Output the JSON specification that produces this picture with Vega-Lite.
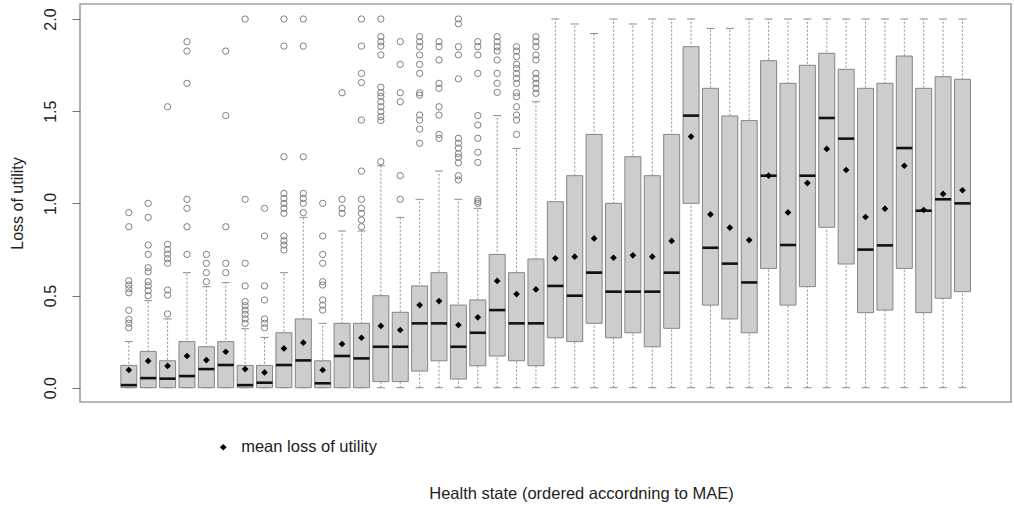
{
  "$schema": "https://vega.github.io/schema/vega-lite/v6.json",
  "width": 931,
  "height": 398,
  "autosize": {"type": "none"},
  "padding": {"left": 80, "top": 4, "right": 3, "bottom": 106},
  "background": "white",
  "config": {
    "font": "Liberation Sans",
    "view": {"stroke": "#a0a0a0", "strokeWidth": 1.6}
  },
  "datasets": {
    "boxes": [
      {"state": 1, "lw": 0, "q1": 0, "median": 0.014, "q3": 0.121, "uw": 0.25, "mean": 0.096},
      {"state": 2, "lw": 0, "q1": 0, "median": 0.052, "q3": 0.197, "uw": 0.472, "mean": 0.145},
      {"state": 3, "lw": 0, "q1": 0, "median": 0.049, "q3": 0.146, "uw": 0.373, "mean": 0.118},
      {"state": 4, "lw": 0, "q1": 0, "median": 0.063, "q3": 0.25, "uw": 0.624, "mean": 0.172},
      {"state": 5, "lw": 0, "q1": 0, "median": 0.101, "q3": 0.222, "uw": 0.548, "mean": 0.15},
      {"state": 6, "lw": 0, "q1": 0, "median": 0.123, "q3": 0.25, "uw": 0.57, "mean": 0.195},
      {"state": 7, "lw": 0, "q1": 0, "median": 0.014, "q3": 0.121, "uw": 0.32, "mean": 0.101},
      {"state": 8, "lw": 0, "q1": 0, "median": 0.027, "q3": 0.121, "uw": 0.273, "mean": 0.083},
      {"state": 9, "lw": 0, "q1": 0, "median": 0.123, "q3": 0.298, "uw": 0.624, "mean": 0.213},
      {"state": 10, "lw": 0, "q1": 0, "median": 0.148, "q3": 0.373, "uw": 0.924, "mean": 0.244},
      {"state": 11, "lw": 0, "q1": 0, "median": 0.024, "q3": 0.146, "uw": 0.349, "mean": 0.096},
      {"state": 12, "lw": 0, "q1": 0, "median": 0.172, "q3": 0.349, "uw": 0.85, "mean": 0.237},
      {"state": 13, "lw": 0, "q1": 0, "median": 0.159, "q3": 0.349, "uw": 0.85, "mean": 0.271},
      {"state": 14, "lw": 0, "q1": 0.033, "median": 0.222, "q3": 0.499, "uw": 1.204, "mean": 0.335},
      {"state": 15, "lw": 0, "q1": 0.033, "median": 0.222, "q3": 0.409, "uw": 0.924, "mean": 0.313},
      {"state": 16, "lw": 0, "q1": 0.09, "median": 0.349, "q3": 0.552, "uw": 1.022, "mean": 0.448},
      {"state": 17, "lw": 0, "q1": 0.146, "median": 0.349, "q3": 0.624, "uw": 1.175, "mean": 0.47},
      {"state": 18, "lw": 0, "q1": 0.047, "median": 0.222, "q3": 0.448, "uw": 1.022, "mean": 0.34},
      {"state": 19, "lw": 0, "q1": 0.119, "median": 0.298, "q3": 0.476, "uw": 0.973, "mean": 0.382},
      {"state": 20, "lw": 0, "q1": 0.172, "median": 0.421, "q3": 0.723, "uw": 1.476, "mean": 0.579},
      {"state": 21, "lw": 0, "q1": 0.146, "median": 0.349, "q3": 0.624, "uw": 1.298, "mean": 0.508},
      {"state": 22, "lw": 0, "q1": 0.119, "median": 0.349, "q3": 0.698, "uw": 1.551, "mean": 0.533},
      {"state": 23, "lw": 0, "q1": 0.271, "median": 0.552, "q3": 1.009, "uw": 2.0, "mean": 0.702},
      {"state": 24, "lw": 0, "q1": 0.25, "median": 0.499, "q3": 1.15, "uw": 1.973, "mean": 0.711},
      {"state": 25, "lw": 0, "q1": 0.349, "median": 0.624, "q3": 1.374, "uw": 1.922, "mean": 0.81},
      {"state": 26, "lw": 0, "q1": 0.271, "median": 0.521, "q3": 1.0, "uw": 2.0, "mean": 0.705},
      {"state": 27, "lw": 0, "q1": 0.298, "median": 0.521, "q3": 1.253, "uw": 1.973, "mean": 0.718},
      {"state": 28, "lw": 0, "q1": 0.222, "median": 0.521, "q3": 1.15, "uw": 2.0, "mean": 0.711},
      {"state": 29, "lw": 0, "q1": 0.322, "median": 0.624, "q3": 1.374, "uw": 2.0, "mean": 0.796},
      {"state": 30, "lw": 0, "q1": 1.0, "median": 1.476, "q3": 1.85, "uw": 2.0, "mean": 1.362},
      {"state": 31, "lw": 0, "q1": 0.448, "median": 0.759, "q3": 1.624, "uw": 1.949, "mean": 0.94},
      {"state": 32, "lw": 0, "q1": 0.373, "median": 0.673, "q3": 1.474, "uw": 1.949, "mean": 0.868},
      {"state": 33, "lw": 0, "q1": 0.298, "median": 0.571, "q3": 1.449, "uw": 2.0, "mean": 0.801},
      {"state": 34, "lw": 0, "q1": 0.647, "median": 1.15, "q3": 1.774, "uw": 2.0, "mean": 1.15},
      {"state": 35, "lw": 0, "q1": 0.448, "median": 0.774, "q3": 1.651, "uw": 2.0, "mean": 0.951},
      {"state": 36, "lw": 0, "q1": 0.548, "median": 1.15, "q3": 1.749, "uw": 2.0, "mean": 1.11},
      {"state": 37, "lw": 0, "q1": 0.87, "median": 1.463, "q3": 1.814, "uw": 2.0, "mean": 1.295},
      {"state": 38, "lw": 0, "q1": 0.671, "median": 1.351, "q3": 1.727, "uw": 2.0, "mean": 1.181},
      {"state": 39, "lw": 0, "q1": 0.407, "median": 0.749, "q3": 1.624, "uw": 2.0, "mean": 0.926},
      {"state": 40, "lw": 0, "q1": 0.421, "median": 0.772, "q3": 1.651, "uw": 2.0, "mean": 0.971},
      {"state": 41, "lw": 0, "q1": 0.647, "median": 1.3, "q3": 1.799, "uw": 2.0, "mean": 1.204},
      {"state": 42, "lw": 0, "q1": 0.407, "median": 0.96, "q3": 1.624, "uw": 2.0, "mean": 0.964},
      {"state": 43, "lw": 0, "q1": 0.485, "median": 1.022, "q3": 1.687, "uw": 2.0, "mean": 1.051},
      {"state": 44, "lw": 0, "q1": 0.521, "median": 1.0, "q3": 1.673, "uw": 2.0, "mean": 1.071}
    ],
    "outliers": [
      {"state": 1, "value": 0.95}, {"state": 1, "value": 0.873}, {"state": 1, "value": 0.58}, {"state": 1, "value": 0.557}, {"state": 1, "value": 0.537}, {"state": 1, "value": 0.515}, {"state": 1, "value": 0.42}, {"state": 1, "value": 0.37}, {"state": 1, "value": 0.35}, {"state": 1, "value": 0.325},
      {"state": 2, "value": 1.0}, {"state": 2, "value": 0.924}, {"state": 2, "value": 0.774}, {"state": 2, "value": 0.723}, {"state": 2, "value": 0.651}, {"state": 2, "value": 0.629}, {"state": 2, "value": 0.575}, {"state": 2, "value": 0.553}, {"state": 2, "value": 0.526}, {"state": 2, "value": 0.499},
      {"state": 3, "value": 1.524}, {"state": 3, "value": 0.778}, {"state": 3, "value": 0.75}, {"state": 3, "value": 0.725}, {"state": 3, "value": 0.7}, {"state": 3, "value": 0.675}, {"state": 3, "value": 0.53}, {"state": 3, "value": 0.503}, {"state": 3, "value": 0.4},
      {"state": 4, "value": 1.877}, {"state": 4, "value": 1.826}, {"state": 4, "value": 1.651}, {"state": 4, "value": 1.022}, {"state": 4, "value": 0.973}, {"state": 4, "value": 0.873}, {"state": 4, "value": 0.723},
      {"state": 5, "value": 0.723}, {"state": 5, "value": 0.675}, {"state": 5, "value": 0.624}, {"state": 5, "value": 0.575},
      {"state": 6, "value": 1.826}, {"state": 6, "value": 1.476}, {"state": 6, "value": 0.873}, {"state": 6, "value": 0.675}, {"state": 6, "value": 0.624},
      {"state": 7, "value": 2.0}, {"state": 7, "value": 1.022}, {"state": 7, "value": 0.675}, {"state": 7, "value": 0.552}, {"state": 7, "value": 0.467}, {"state": 7, "value": 0.445}, {"state": 7, "value": 0.421}, {"state": 7, "value": 0.398}, {"state": 7, "value": 0.373}, {"state": 7, "value": 0.349},
      {"state": 8, "value": 0.973}, {"state": 8, "value": 0.823}, {"state": 8, "value": 0.552}, {"state": 8, "value": 0.476}, {"state": 8, "value": 0.373}, {"state": 8, "value": 0.349}, {"state": 8, "value": 0.325},
      {"state": 9, "value": 2.0}, {"state": 9, "value": 1.853}, {"state": 9, "value": 1.253}, {"state": 9, "value": 1.054}, {"state": 9, "value": 1.027}, {"state": 9, "value": 1.0}, {"state": 9, "value": 0.973}, {"state": 9, "value": 0.946}, {"state": 9, "value": 0.823}, {"state": 9, "value": 0.797}, {"state": 9, "value": 0.774}, {"state": 9, "value": 0.747},
      {"state": 10, "value": 2.0}, {"state": 10, "value": 1.853}, {"state": 10, "value": 1.253}, {"state": 10, "value": 1.054}, {"state": 10, "value": 1.027}, {"state": 10, "value": 1.0}, {"state": 10, "value": 0.95},
      {"state": 11, "value": 1.0}, {"state": 11, "value": 0.823}, {"state": 11, "value": 0.723}, {"state": 11, "value": 0.675}, {"state": 11, "value": 0.575}, {"state": 11, "value": 0.557}, {"state": 11, "value": 0.476}, {"state": 11, "value": 0.448}, {"state": 11, "value": 0.421},
      {"state": 12, "value": 1.6}, {"state": 12, "value": 1.022}, {"state": 12, "value": 0.973}, {"state": 12, "value": 0.946},
      {"state": 13, "value": 2.0}, {"state": 13, "value": 1.853}, {"state": 13, "value": 1.705}, {"state": 13, "value": 1.655}, {"state": 13, "value": 1.452}, {"state": 13, "value": 1.175}, {"state": 13, "value": 1.022}, {"state": 13, "value": 0.973}, {"state": 13, "value": 0.946}, {"state": 13, "value": 0.91}, {"state": 13, "value": 0.873},
      {"state": 14, "value": 2.0}, {"state": 14, "value": 1.904}, {"state": 14, "value": 1.877}, {"state": 14, "value": 1.853}, {"state": 14, "value": 1.805}, {"state": 14, "value": 1.63}, {"state": 14, "value": 1.6}, {"state": 14, "value": 1.58}, {"state": 14, "value": 1.551}, {"state": 14, "value": 1.524}, {"state": 14, "value": 1.497}, {"state": 14, "value": 1.47}, {"state": 14, "value": 1.449}, {"state": 14, "value": 1.226},
      {"state": 15, "value": 1.877}, {"state": 15, "value": 1.754}, {"state": 15, "value": 1.6}, {"state": 15, "value": 1.551}, {"state": 15, "value": 1.15}, {"state": 15, "value": 1.022},
      {"state": 16, "value": 1.904}, {"state": 16, "value": 1.877}, {"state": 16, "value": 1.85}, {"state": 16, "value": 1.805}, {"state": 16, "value": 1.754}, {"state": 16, "value": 1.705}, {"state": 16, "value": 1.6}, {"state": 16, "value": 1.587}, {"state": 16, "value": 1.479}, {"state": 16, "value": 1.452}, {"state": 16, "value": 1.403}, {"state": 16, "value": 1.326},
      {"state": 17, "value": 1.877}, {"state": 17, "value": 1.85}, {"state": 17, "value": 1.778}, {"state": 17, "value": 1.651}, {"state": 17, "value": 1.624}, {"state": 17, "value": 1.524}, {"state": 17, "value": 1.479}, {"state": 17, "value": 1.374}, {"state": 17, "value": 1.353},
      {"state": 18, "value": 2.0}, {"state": 18, "value": 1.974}, {"state": 18, "value": 1.85}, {"state": 18, "value": 1.805}, {"state": 18, "value": 1.675}, {"state": 18, "value": 1.353}, {"state": 18, "value": 1.326}, {"state": 18, "value": 1.3}, {"state": 18, "value": 1.27}, {"state": 18, "value": 1.25}, {"state": 18, "value": 1.22}, {"state": 18, "value": 1.15}, {"state": 18, "value": 1.127},
      {"state": 19, "value": 1.877}, {"state": 19, "value": 1.85}, {"state": 19, "value": 1.805}, {"state": 19, "value": 1.705}, {"state": 19, "value": 1.476}, {"state": 19, "value": 1.425}, {"state": 19, "value": 1.353}, {"state": 19, "value": 1.277}, {"state": 19, "value": 1.222}, {"state": 19, "value": 1.022}, {"state": 19, "value": 1.01}, {"state": 19, "value": 1.0},
      {"state": 20, "value": 1.904}, {"state": 20, "value": 1.877}, {"state": 20, "value": 1.85}, {"state": 20, "value": 1.826}, {"state": 20, "value": 1.778}, {"state": 20, "value": 1.705}, {"state": 20, "value": 1.651}, {"state": 20, "value": 1.602},
      {"state": 21, "value": 1.85}, {"state": 21, "value": 1.826}, {"state": 21, "value": 1.796}, {"state": 21, "value": 1.754}, {"state": 21, "value": 1.732}, {"state": 21, "value": 1.705}, {"state": 21, "value": 1.678}, {"state": 21, "value": 1.651}, {"state": 21, "value": 1.6}, {"state": 21, "value": 1.579}, {"state": 21, "value": 1.524}, {"state": 21, "value": 1.479}, {"state": 21, "value": 1.452}, {"state": 21, "value": 1.374},
      {"state": 22, "value": 1.904}, {"state": 22, "value": 1.877}, {"state": 22, "value": 1.85}, {"state": 22, "value": 1.805}, {"state": 22, "value": 1.778}, {"state": 22, "value": 1.705}, {"state": 22, "value": 1.678}, {"state": 22, "value": 1.651}, {"state": 22, "value": 1.624}, {"state": 22, "value": 1.597}
    ]
  },
  "layer": [
    {
      "data": {"name": "boxes"},
      "mark": {"type": "rule", "color": "#8c8c8c", "strokeWidth": 1, "strokeDash": [2, 2]},
      "encoding": {
        "x": {
          "field": "state", "type": "quantitative",
          "scale": {"domain": [-1.26, 46.245], "nice": false, "zero": false},
          "axis": {
            "title": "Health state (ordered accordning to MAE)",
            "labels": false, "ticks": false, "domain": false, "grid": false,
            "titleFontSize": 16.5, "titleFontWeight": "normal", "titleColor": "#222222",
            "titleX": 501, "titleY": 91, "titleAlign": "center", "titleBaseline": "middle"
          }
        },
        "y": {
          "field": "lw", "type": "quantitative",
          "scale": {"domain": [-0.0776, 2.0814], "nice": false, "zero": false},
          "axis": {
            "title": "Loss of utility",
            "values": [0, 0.5, 1, 1.5, 2], "format": ".1f",
            "labelAngle": -90, "labelAlign": "center", "labelBaseline": "bottom",
            "labelPadding": 14, "labelFontSize": 16, "labelColor": "#222222",
            "tickSize": 8, "tickColor": "#777777", "tickWidth": 1,
            "domain": false, "grid": false,
            "titleFontSize": 16, "titleFontWeight": "normal", "titleColor": "#222222",
            "titleAngle": -90, "titleX": -63, "titleY": 199,
            "titleAlign": "center", "titleBaseline": "middle"
          }
        },
        "y2": {"field": "uw"}
      }
    },
    {
      "data": {"name": "boxes"},
      "mark": {"type": "tick", "orient": "horizontal", "color": "#8c8c8c", "opacity": 1, "size": 8, "thickness": 1},
      "encoding": {
        "x": {"field": "state", "type": "quantitative"},
        "y": {"field": "lw", "type": "quantitative", "title": "Loss of utility"}
      }
    },
    {
      "data": {"name": "boxes"},
      "mark": {"type": "tick", "orient": "horizontal", "color": "#8c8c8c", "opacity": 1, "size": 8, "thickness": 1},
      "encoding": {
        "x": {"field": "state", "type": "quantitative"},
        "y": {"field": "uw", "type": "quantitative", "title": "Loss of utility"}
      }
    },
    {
      "data": {"name": "boxes"},
      "mark": {"type": "bar", "orient": "vertical", "size": 16, "fill": "#cdcdcd", "stroke": "#858585", "strokeWidth": 1},
      "encoding": {
        "x": {"field": "state", "type": "quantitative"},
        "y": {"field": "q1", "type": "quantitative", "title": "Loss of utility"},
        "y2": {"field": "q3"}
      }
    },
    {
      "data": {"name": "boxes"},
      "mark": {"type": "tick", "orient": "horizontal", "color": "#111111", "opacity": 1, "size": 16, "thickness": 2.6},
      "encoding": {
        "x": {"field": "state", "type": "quantitative"},
        "y": {"field": "median", "type": "quantitative", "title": "Loss of utility"}
      }
    },
    {
      "data": {"name": "outliers"},
      "mark": {"type": "point", "shape": "circle", "filled": false, "stroke": "#808080", "opacity": 1, "strokeWidth": 1, "size": 40},
      "encoding": {
        "x": {"field": "state", "type": "quantitative"},
        "y": {"field": "value", "type": "quantitative", "title": "Loss of utility"}
      }
    },
    {
      "data": {"name": "boxes"},
      "mark": {"type": "point", "filled": true, "color": "#000000", "opacity": 1, "size": 45},
      "encoding": {
        "x": {"field": "state", "type": "quantitative"},
        "y": {"field": "mean", "type": "quantitative", "title": "Loss of utility"},
        "shape": {
          "datum": "mean loss of utility",
          "scale": {"range": ["diamond"]},
          "legend": {
            "orient": "none", "legendX": 135, "legendY": 435, "title": null, "padding": 0,
            "labelFontSize": 16.5, "labelColor": "#222222", "labelOffset": 9.7,
            "symbolSize": 45, "symbolFillColor": "#000000", "symbolStrokeColor": "#000000", "symbolStrokeWidth": 0
          }
        }
      }
    }
  ]
}
